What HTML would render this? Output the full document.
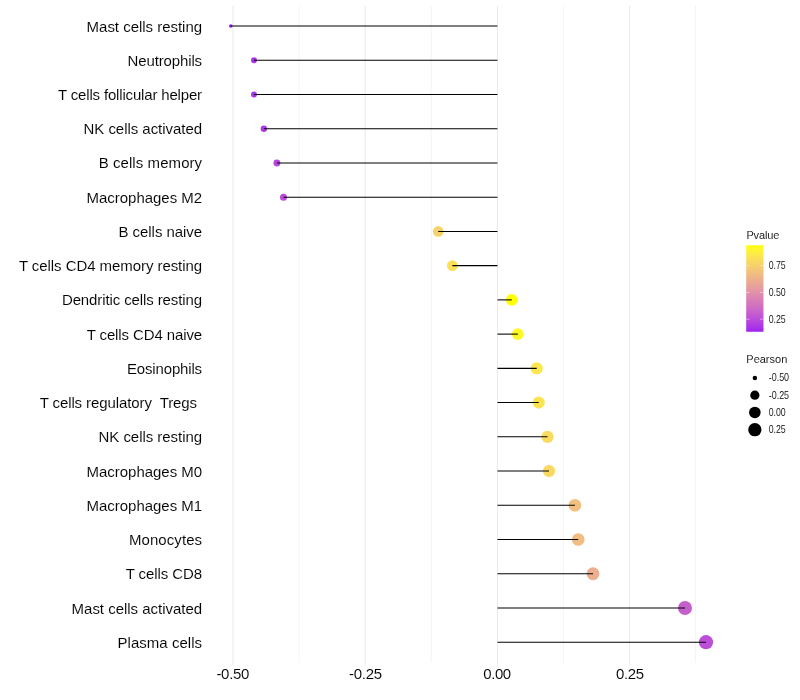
<!DOCTYPE html>
<html><head><meta charset="utf-8"><title>Lollipop</title>
<style>
html,body{margin:0;padding:0;background:#fff;}
body{width:800px;height:700px;overflow:hidden;}
svg{display:block;will-change:transform;}
text{font-family:"Liberation Sans",sans-serif;fill:#000;stroke:#fff;stroke-width:0.08px;}
.yl{font-size:15px;text-anchor:end;}
.xl{font-size:15px;text-anchor:middle;}
.lt{font-size:11px;}
.ll{font-size:9.8px;}
</style></head>
<body>
<svg width="800" height="700" viewBox="0 0 800 700">
<rect width="800" height="700" fill="#ffffff"/>
<defs><linearGradient id="cb" x1="0" y1="0" x2="0" y2="1"><stop offset="0.00" stop-color="#ffff00"/><stop offset="0.05" stop-color="#fef530"/><stop offset="0.10" stop-color="#fceb46"/><stop offset="0.15" stop-color="#fbe156"/><stop offset="0.20" stop-color="#f8d763"/><stop offset="0.25" stop-color="#f6cd6f"/><stop offset="0.30" stop-color="#f3c37a"/><stop offset="0.35" stop-color="#f0b984"/><stop offset="0.40" stop-color="#edaf8e"/><stop offset="0.45" stop-color="#e9a597"/><stop offset="0.50" stop-color="#e59ba0"/><stop offset="0.55" stop-color="#e190a9"/><stop offset="0.60" stop-color="#dc86b1"/><stop offset="0.65" stop-color="#d67bb9"/><stop offset="0.70" stop-color="#d171c1"/><stop offset="0.75" stop-color="#ca66c9"/><stop offset="0.80" stop-color="#c35ad1"/><stop offset="0.85" stop-color="#bc4ed9"/><stop offset="0.90" stop-color="#b441e1"/><stop offset="0.95" stop-color="#aa33e8"/><stop offset="1.00" stop-color="#a020f0"/></linearGradient></defs>
<g stroke="#ebebeb" fill="none">
<line x1="299.20" y1="5.50" x2="299.20" y2="662.70" stroke-width="0.53"/>
<line x1="431.30" y1="5.50" x2="431.30" y2="662.70" stroke-width="0.53"/>
<line x1="563.40" y1="5.50" x2="563.40" y2="662.70" stroke-width="0.53"/>
<line x1="695.50" y1="5.50" x2="695.50" y2="662.70" stroke-width="0.53"/>
<line x1="233.00" y1="5.50" x2="233.00" y2="665.45" stroke-width="1.07"/>
<line x1="365.30" y1="5.50" x2="365.30" y2="665.45" stroke-width="1.07"/>
<line x1="497.50" y1="5.50" x2="497.50" y2="665.45" stroke-width="1.07"/>
<line x1="629.50" y1="5.50" x2="629.50" y2="665.45" stroke-width="1.07"/>
</g>
<g stroke="none">
<circle cx="230.75" cy="26.04" r="1.78" fill="#a020f0"/>
<circle cx="254.00" cy="60.27" r="2.96" fill="#ab34e8"/>
<circle cx="254.00" cy="94.50" r="2.96" fill="#ab34e8"/>
<circle cx="263.85" cy="128.73" r="3.18" fill="#b03be4"/>
<circle cx="276.90" cy="162.96" r="3.44" fill="#b646de"/>
<circle cx="283.50" cy="197.19" r="3.55" fill="#ba4bdb"/>
<circle cx="438.20" cy="231.42" r="5.30" fill="#f7d26a"/>
<circle cx="452.40" cy="265.65" r="5.42" fill="#fae058"/>
<circle cx="511.80" cy="299.88" r="5.88" fill="#ffff00"/>
<circle cx="517.80" cy="334.11" r="5.92" fill="#fef925"/>
<circle cx="536.70" cy="368.34" r="6.06" fill="#fbe64f"/>
<circle cx="538.70" cy="402.57" r="6.07" fill="#fbe452"/>
<circle cx="547.50" cy="436.80" r="6.13" fill="#f9db5f"/>
<circle cx="549.00" cy="471.03" r="6.14" fill="#f9d961"/>
<circle cx="574.90" cy="505.26" r="6.32" fill="#f2c07e"/>
<circle cx="578.20" cy="539.49" r="6.34" fill="#f1bd81"/>
<circle cx="593.00" cy="573.72" r="6.43" fill="#edae8f"/>
<circle cx="685.00" cy="607.95" r="6.99" fill="#c65fce"/>
<circle cx="706.00" cy="642.18" r="7.11" fill="#bc4fd9"/>
</g>
<g stroke="#000" stroke-width="1.07" stroke-linecap="butt">
<line x1="230.75" y1="26.04" x2="497.45" y2="26.04"/>
<line x1="254.00" y1="60.27" x2="497.45" y2="60.27"/>
<line x1="254.00" y1="94.50" x2="497.45" y2="94.50"/>
<line x1="263.85" y1="128.73" x2="497.45" y2="128.73"/>
<line x1="276.90" y1="162.96" x2="497.45" y2="162.96"/>
<line x1="283.50" y1="197.19" x2="497.45" y2="197.19"/>
<line x1="438.20" y1="231.42" x2="497.45" y2="231.42"/>
<line x1="452.40" y1="265.65" x2="497.45" y2="265.65"/>
<line x1="497.45" y1="299.88" x2="511.80" y2="299.88"/>
<line x1="497.45" y1="334.11" x2="517.80" y2="334.11"/>
<line x1="497.45" y1="368.34" x2="536.70" y2="368.34"/>
<line x1="497.45" y1="402.57" x2="538.70" y2="402.57"/>
<line x1="497.45" y1="436.80" x2="547.50" y2="436.80"/>
<line x1="497.45" y1="471.03" x2="549.00" y2="471.03"/>
<line x1="497.45" y1="505.26" x2="574.90" y2="505.26"/>
<line x1="497.45" y1="539.49" x2="578.20" y2="539.49"/>
<line x1="497.45" y1="573.72" x2="593.00" y2="573.72"/>
<line x1="497.45" y1="607.95" x2="685.00" y2="607.95"/>
<line x1="497.45" y1="642.18" x2="706.00" y2="642.18"/>
</g>
<g class="yl">
<text transform="translate(202.10,32) scale(1,1.030)" textLength="115.52" lengthAdjust="spacing" xml:space="preserve">Mast cells resting</text>
<text transform="translate(202.10,66) scale(1,1.030)" textLength="74.52" lengthAdjust="spacing" xml:space="preserve">Neutrophils</text>
<text transform="translate(202.10,100) scale(1,1.030)" textLength="144.04" lengthAdjust="spacing" xml:space="preserve">T cells follicular helper</text>
<text transform="translate(202.10,134) scale(1,1.030)" textLength="118.62" lengthAdjust="spacing" xml:space="preserve">NK cells activated</text>
<text transform="translate(202.10,168) scale(1,1.030)" textLength="103.42" lengthAdjust="spacing" xml:space="preserve">B cells memory</text>
<text transform="translate(202.10,203) scale(1,1.030)" textLength="115.54" lengthAdjust="spacing" xml:space="preserve">Macrophages M2</text>
<text transform="translate(202.10,237) scale(1,1.030)" textLength="83.61" lengthAdjust="spacing" xml:space="preserve">B cells naive</text>
<text transform="translate(202.10,271) scale(1,1.030)" textLength="183.19" lengthAdjust="spacing" xml:space="preserve">T cells CD4 memory resting</text>
<text transform="translate(202.10,305) scale(1,1.030)" textLength="140.20" lengthAdjust="spacing" xml:space="preserve">Dendritic cells resting</text>
<text transform="translate(202.10,340) scale(1,1.030)" textLength="115.44" lengthAdjust="spacing" xml:space="preserve">T cells CD4 naive</text>
<text transform="translate(202.10,374) scale(1,1.030)" textLength="75.11" lengthAdjust="spacing" xml:space="preserve">Eosinophils</text>
<text transform="translate(201.10,408) scale(1,1.030)" textLength="161.45" lengthAdjust="spacing" xml:space="preserve">T cells regulatory  Tregs </text>
<text transform="translate(202.10,442) scale(1,1.030)" textLength="103.60" lengthAdjust="spacing" xml:space="preserve">NK cells resting</text>
<text transform="translate(202.10,477) scale(1,1.030)" textLength="115.54" lengthAdjust="spacing" xml:space="preserve">Macrophages M0</text>
<text transform="translate(202.10,511) scale(1,1.030)" textLength="115.54" lengthAdjust="spacing" xml:space="preserve">Macrophages M1</text>
<text transform="translate(202.10,545) scale(1,1.030)" textLength="73.18" lengthAdjust="spacing" xml:space="preserve">Monocytes</text>
<text transform="translate(202.10,579) scale(1,1.030)" textLength="76.41" lengthAdjust="spacing" xml:space="preserve">T cells CD8</text>
<text transform="translate(202.10,614) scale(1,1.030)" textLength="130.53" lengthAdjust="spacing" xml:space="preserve">Mast cells activated</text>
<text transform="translate(202.10,648) scale(1,1.030)" textLength="84.59" lengthAdjust="spacing" xml:space="preserve">Plasma cells</text>
</g>
<g class="xl">
<text transform="translate(232.90,679) scale(1,1.03)" textLength="33" lengthAdjust="spacing">-0.50</text>
<text transform="translate(365.60,679) scale(1,1.03)" textLength="33" lengthAdjust="spacing">-0.25</text>
<text transform="translate(497.20,679) scale(1,1.03)" textLength="28" lengthAdjust="spacing">0.00</text>
<text transform="translate(630.10,679) scale(1,1.03)" textLength="28" lengthAdjust="spacing">0.25</text>
</g>
<text class="lt" x="746.4" y="239" textLength="33" lengthAdjust="spacing">Pvalue</text>
<rect x="746.20" y="245.30" width="17.28" height="86.45" fill="url(#cb)"/>
<g stroke="#fff" stroke-width="0.45">
<line x1="746.20" y1="265.70" x2="749.66" y2="265.70"/>
<line x1="760.02" y1="265.70" x2="763.48" y2="265.70"/>
<line x1="746.20" y1="292.40" x2="749.66" y2="292.40"/>
<line x1="760.02" y1="292.40" x2="763.48" y2="292.40"/>
<line x1="746.20" y1="319.20" x2="749.66" y2="319.20"/>
<line x1="760.02" y1="319.20" x2="763.48" y2="319.20"/>
</g>
<text class="ll" transform="translate(768.7,269.0) scale(1,1.07)" textLength="17" lengthAdjust="spacingAndGlyphs">0.75</text>
<text class="ll" transform="translate(768.7,296.0) scale(1,1.07)" textLength="17" lengthAdjust="spacingAndGlyphs">0.50</text>
<text class="ll" transform="translate(768.7,323.0) scale(1,1.07)" textLength="17" lengthAdjust="spacingAndGlyphs">0.25</text>
<text class="lt" x="746.3" y="362.8">Pearson</text>
<circle cx="754.85" cy="377.90" r="2.25" fill="#000"/>
<text class="ll" transform="translate(768.7,381.0) scale(1,1.07)" textLength="20.4" lengthAdjust="spacingAndGlyphs">-0.50</text>
<circle cx="754.85" cy="395.15" r="4.61" fill="#000"/>
<text class="ll" transform="translate(768.7,398.5) scale(1,1.07)" textLength="20.4" lengthAdjust="spacingAndGlyphs">-0.25</text>
<circle cx="754.85" cy="412.40" r="5.77" fill="#000"/>
<text class="ll" transform="translate(768.7,416.0) scale(1,1.07)" textLength="17.0" lengthAdjust="spacingAndGlyphs">0.00</text>
<circle cx="754.85" cy="429.70" r="6.66" fill="#000"/>
<text class="ll" transform="translate(768.7,433.0) scale(1,1.07)" textLength="17.0" lengthAdjust="spacingAndGlyphs">0.25</text>
</svg>
</body></html>
